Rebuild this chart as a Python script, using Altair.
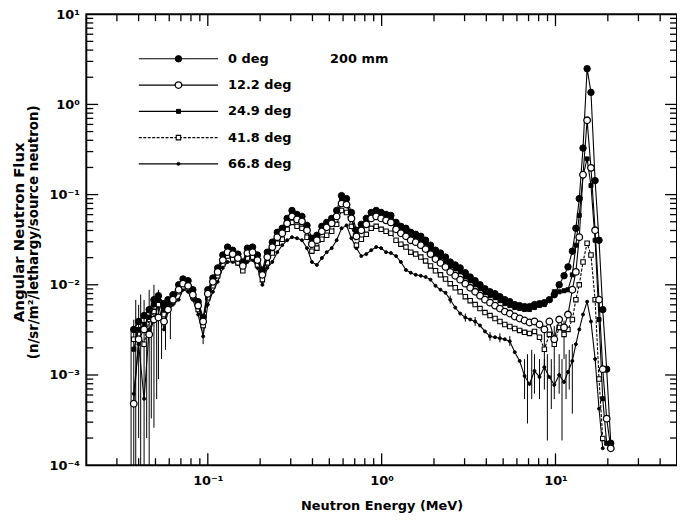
import altair as alt
import pandas as pd

# ---------------- data ----------------
series_names = ["0 deg", "12.2 deg", "24.9 deg", "41.8 deg", "66.8 deg"]

energy = [0.0375, 0.040, 0.043, 0.046, 0.049, 0.052, 0.056, 0.059, 0.063, 0.068,
          0.072, 0.077, 0.082, 0.088, 0.094, 0.100, 0.107, 0.114, 0.122, 0.130,
          0.139, 0.149, 0.159, 0.169, 0.181, 0.193, 0.206, 0.220, 0.235, 0.251,
          0.268, 0.286, 0.305, 0.326, 0.348, 0.372, 0.397, 0.424, 0.453, 0.483,
          0.516, 0.551, 0.588, 0.628, 0.670, 0.716, 0.764, 0.816, 0.871, 0.930,
          0.993, 1.06, 1.13, 1.21, 1.29, 1.38, 1.47, 1.57, 1.68, 1.79,
          1.91, 2.04, 2.18, 2.33, 2.48, 2.65, 2.83, 3.03, 3.23, 3.45,
          3.68, 3.93, 4.20, 4.49, 4.79, 5.11, 5.46, 5.83, 6.22, 6.64,
          7.09, 7.57, 8.09, 8.63, 9.22, 9.84, 10.5, 11.2, 11.8, 12.5,
          13.1, 13.7, 14.4, 15.2, 16.0, 16.9, 17.8, 18.7, 19.7, 20.8]

flux_0 = [0.0032, 0.00392, 0.00456, 0.00531, 0.00684, 0.00757, 0.00618, 0.00684, 0.00776, 0.0100,
          0.0116, 0.0111, 0.00881, 0.0065, 0.00434, 0.00881, 0.0119, 0.0154, 0.0214, 0.0262,
          0.0242, 0.0219, 0.0179, 0.0255, 0.0262, 0.0214, 0.0146, 0.0230, 0.0297, 0.0382,
          0.0423, 0.0545, 0.0667, 0.0603, 0.0573, 0.0456, 0.0328, 0.0354, 0.0445, 0.0492,
          0.0545, 0.0667, 0.0975, 0.0903, 0.0634, 0.0402, 0.0468, 0.0545, 0.0634, 0.0667,
          0.0634, 0.0603, 0.0588, 0.0492, 0.0445, 0.0423, 0.0382, 0.0363, 0.0345, 0.0312,
          0.0275, 0.0242, 0.0225, 0.0203, 0.0179, 0.0166, 0.0154, 0.0136, 0.0122, 0.0111,
          0.0100, 0.00903, 0.00837, 0.00796, 0.00738, 0.00684, 0.0065, 0.00603, 0.00588, 0.00573,
          0.00573, 0.00603, 0.00618, 0.00634, 0.00684, 0.00776, 0.0100, 0.0126, 0.0158, 0.0236,
          0.0423, 0.0903, 0.328, 2.49, 1.36, 0.143, 0.0312, 0.00531, 0.00116, 0.000175]

flux_12 = [0.00048, 0.00249, 0.0032, 0.00282, 0.00412, 0.00434, 0.00392, 0.00531, 0.00684, 0.00881,
           0.0103, 0.00975, 0.00776, 0.00588, 0.00392, 0.00796, 0.0108, 0.0139, 0.0188, 0.0230,
           0.0219, 0.0198, 0.0162, 0.0225, 0.0230, 0.0188, 0.0129, 0.0203, 0.0262, 0.0337,
           0.0373, 0.048, 0.0573, 0.0531, 0.0505, 0.0402, 0.0282, 0.0312, 0.0392, 0.0434,
           0.048, 0.0573, 0.0796, 0.0776, 0.0545, 0.0345, 0.0402, 0.0468, 0.0545, 0.0573,
           0.0545, 0.0518, 0.0492, 0.0412, 0.0373, 0.0345, 0.0312, 0.0297, 0.0275, 0.0249,
           0.0219, 0.0193, 0.0175, 0.0158, 0.0139, 0.0126, 0.0114, 0.0103, 0.00927, 0.00837,
           0.00757, 0.00684, 0.00634, 0.00588, 0.00545, 0.00505, 0.0048, 0.00445, 0.00423, 0.00402,
           0.00382, 0.00392, 0.00363, 0.0032, 0.00392, 0.00249, 0.00412, 0.00337, 0.00468, 0.00881,
           0.0139, 0.0337, 0.166, 0.667, 0.198, 0.0402, 0.00684, 0.00116, 0.000328, 0.000154]

flux_25 = [0.00193, 0.0032, 0.00363, 0.00434, 0.00603, 0.00684, 0.00531, 0.00618, 0.00719, 0.00927,
           0.0105, 0.0103, 0.00816, 0.00603, 0.00392, 0.00816, 0.0111, 0.0143, 0.0198, 0.0242,
           0.0225, 0.0203, 0.0166, 0.0236, 0.0242, 0.0198, 0.0132, 0.0208, 0.0268, 0.0345,
           0.0382, 0.0492, 0.0603, 0.0545, 0.0518, 0.0412, 0.0289, 0.0320, 0.0402, 0.0445,
           0.0492, 0.0603, 0.0859, 0.0816, 0.0573, 0.0354, 0.0423, 0.0492, 0.0573, 0.0603,
           0.0573, 0.0545, 0.0531, 0.0445, 0.0402, 0.0382, 0.0345, 0.0328, 0.0312, 0.0282,
           0.0249, 0.0219, 0.0203, 0.0184, 0.0162, 0.0150, 0.0139, 0.0122, 0.0111, 0.0100,
           0.00903, 0.00816, 0.00757, 0.00719, 0.00667, 0.00618, 0.00588, 0.00559, 0.00545, 0.00531,
           0.00531, 0.00559, 0.00588, 0.00603, 0.00684, 0.00837, 0.00837, 0.00859, 0.00881, 0.0129,
           0.0275, 0.0588, 0.162, 0.249, 0.126, 0.0312, 0.00412, 0.000545, 0.000175, None]

flux_42 = [0.00249, 0.00282, 0.00219, 0.00412, 0.00505, 0.00603, 0.00468, 0.00559, 0.0065, 0.00837,
           0.0095, 0.00927, 0.00738, 0.00531, 0.00354, 0.00719, 0.00975, 0.0126, 0.0170, 0.0208,
           0.0193, 0.0175, 0.0143, 0.0198, 0.0203, 0.0166, 0.0114, 0.0175, 0.0225, 0.0289,
           0.0320, 0.0412, 0.0492, 0.0445, 0.0423, 0.0337, 0.0236, 0.0255, 0.0320, 0.0354,
           0.0392, 0.0468, 0.0667, 0.0634, 0.0445, 0.0275, 0.0320, 0.0363, 0.0423, 0.0445,
           0.0412, 0.0392, 0.0373, 0.0312, 0.0282, 0.0262, 0.0230, 0.0219, 0.0203, 0.0184,
           0.0162, 0.0143, 0.0129, 0.0116, 0.0103, 0.00927, 0.00837, 0.00738, 0.00667, 0.00603,
           0.00545, 0.00492, 0.00456, 0.00423, 0.00392, 0.00363, 0.00345, 0.00328, 0.00312, 0.00297,
           0.00289, 0.00304, 0.00262, 0.00193, 0.00282, 0.00219, 0.00337, 0.00282, 0.0032, 0.00412,
           0.00684, 0.0100, 0.0179, 0.0289, 0.0214, 0.00684, 0.000903, 0.000198, None, None]

flux_67 = [0.000618, 0.00219, 0.000545, 0.0032, 0.00412, 0.00603, 0.0032, 0.00505, 0.00603, 0.00684,
           0.00881, 0.00837, 0.00684, 0.00468, 0.00268, 0.00603, 0.00837, 0.0108, 0.0154, 0.0179,
           0.0179, 0.0170, 0.0146, 0.0179, 0.0188, 0.0154, 0.0100, 0.0154, 0.0179, 0.0230,
           0.0275, 0.0312, 0.0337, 0.0328, 0.0312, 0.0255, 0.0179, 0.0166, 0.0198, 0.0230,
           0.0255, 0.0312, 0.0423, 0.0456, 0.0328, 0.0255, 0.0208, 0.0219, 0.0242, 0.0262,
           0.0255, 0.0230, 0.0225, 0.0208, 0.0179, 0.0146, 0.0136, 0.0129, 0.0126, 0.0122,
           0.0114, 0.00975, 0.00881, 0.00816, 0.00684, 0.00559, 0.0048, 0.00434, 0.00412, 0.00392,
           0.00354, 0.00304, 0.00268, 0.00262, 0.00255, 0.00249, 0.00236, 0.00179, 0.00143, 0.000975,
           0.000796, 0.00111, 0.00095, 0.00122, 0.00095, 0.000776, 0.0010, 0.000837, 0.00108, 0.00143,
           0.00219, 0.0032, 0.00468, 0.0065, 0.00392, 0.0015, 0.000423, 0.000154, None, None]

# error bars (energy, lower, upper)
err_energy = [0.0362, 0.0375, 0.0385, 0.040, 0.0411, 0.043, 0.0445, 0.046, 0.0473, 0.049,
              0.0508, 0.052, 0.0542, 0.0571, 0.0609, 0.094,
              2.48, 3.03, 3.45, 4.20, 4.79, 5.46,
              6.64, 6.90, 7.30, 7.57, 8.09, 8.63, 8.98, 9.46, 9.84, 10.5,
              10.9, 11.5, 12.0, 12.5, 8.63, 9.84, 11.2]
err_low = [0.0001, 0.0001, 0.0001, 0.0002, 0.0001, 0.0001, 0.0002, 0.0001, 0.00033, 0.00026,
           0.00054, 0.0009, 0.0015, 0.0019, 0.0025, 0.0022,
           0.0062, 0.0039, 0.0035, 0.0024, 0.0023, 0.0021,
           0.00054, 0.00029, 0.00054, 0.00062, 0.00054, 0.00069, 0.000188, 0.00042, 0.00054, 0.00062,
           0.000188, 0.00054, 0.00069, 0.000373, 0.0012, 0.0013, 0.0015]
err_high = [0.0032, 0.0041, 0.0068, 0.006, 0.0078, 0.0068, 0.0053, 0.0088, 0.0068, 0.010,
            0.0078, 0.0088, 0.0068, 0.006, 0.0068, 0.0036,
            0.0076, 0.0048, 0.0044, 0.0030, 0.0029, 0.0027,
            0.0015, 0.0017, 0.0019, 0.0017, 0.0015, 0.0015, 0.0017, 0.0015, 0.0013, 0.0017,
            0.0015, 0.0017, 0.0019, 0.0022, 0.0030, 0.0035, 0.0040]

# axis tick values
x_major = [0.1, 1, 10]
x_minor = [0.03, 0.04, 0.05, 0.06, 0.07, 0.08, 0.09,
           0.2, 0.3, 0.4, 0.5, 0.6, 0.7, 0.8, 0.9,
           2, 3, 4, 5, 6, 7, 8, 9, 20, 30, 40]
y_major = [0.001, 0.01, 0.1, 1]
y_minor = [2e-4, 3e-4, 4e-4, 5e-4, 6e-4, 7e-4, 8e-4, 9e-4,
           2e-3, 3e-3, 4e-3, 5e-3, 6e-3, 7e-3, 8e-3, 9e-3,
           0.02, 0.03, 0.04, 0.05, 0.06, 0.07, 0.08, 0.09,
           0.2, 0.3, 0.4, 0.5, 0.6, 0.7, 0.8, 0.9,
           2, 3, 4, 5, 6, 7, 8, 9]
x_label_values = [0.1, 1, 10]
x_labels = ["10⁻¹", "10⁰", "10¹"]
y_label_values = [1e-4, 1e-3, 1e-2, 0.1, 1, 10]
y_labels = ["10⁻⁴", "10⁻³", "10⁻²", "10⁻¹", "10⁰", "10¹"]
y_title_lines = ["Angular Neutron Flux", "(n/sr/m²/lethargy/source neutron)"]
x_title = "Neutron Energy (MeV)"
note_text = "200 mm"

# ---------------- build chart ----------------
FONT = "DejaVu Sans"
FW = "bold"
FS = 13
W, H = 596, 455

all_flux = [flux_0, flux_12, flux_25, flux_42, flux_67]
rows = []
for name, vals in zip(series_names, all_flux):
    for e, v in zip(energy, vals):
        if v is not None:
            rows.append({"series": name, "energy": e, "flux": v})
df = pd.DataFrame(rows)

xscale = alt.Scale(type="log", domain=[0.02, 50], nice=False)
yscale = alt.Scale(type="log", domain=[1e-4, 10], nice=False)

xlab_expr = "[" + ",".join("'%s'" % s for s in x_labels) + "][round(log(datum.value)/LN10)+1]"
ylab_expr = "[" + ",".join("'%s'" % s for s in y_labels) + "][round(log(datum.value)/LN10)+4]"

x_axis = alt.Axis(values=x_label_values, labelExpr=xlab_expr, ticks=False, domain=False, grid=False,
                  labelFont=FONT, labelFontSize=FS, labelFontWeight=FW, labelColor="black",
                  labelPadding=9, title=x_title, titleFont=FONT, titleFontSize=FS,
                  titleFontWeight=FW, titleColor="black", titlePadding=13)
y_axis = alt.Axis(values=y_label_values, labelExpr=ylab_expr, ticks=False, domain=False, grid=False,
                  labelFont=FONT, labelFontSize=FS, labelFontWeight=FW, labelColor="black",
                  labelPadding=7, title=None)


def X(field):
    return alt.X(field, scale=xscale, axis=x_axis)


def Y(field):
    return alt.Y(field, scale=yscale, axis=y_axis)


err_df = pd.DataFrame({"energy": err_energy, "lo": err_low, "hi": err_high})
errbars = alt.Chart(err_df).mark_rule(color="black", strokeWidth=1, clip=True).encode(
    x=X("energy:Q"), y=Y("lo:Q"), y2="hi:Q",
)

styles = {
    "0 deg": dict(shape="circle", fill="black", size=42, sw=1, dash=[1, 0]),
    "12.2 deg": dict(shape="circle", fill="white", size=44, sw=1.3, dash=[1, 0]),
    "24.9 deg": dict(shape="square", fill="black", size=16, sw=1, dash=[1, 0]),
    "41.8 deg": dict(shape="square", fill="white", size=20, sw=1.1, dash=[3, 1.5]),
    "66.8 deg": dict(shape="circle", fill="black", size=9, sw=1, dash=[1, 0]),
}

layers = [errbars]
for name in ["66.8 deg", "41.8 deg", "24.9 deg", "0 deg", "12.2 deg"]:
    st = styles[name]
    base = alt.Chart(df).transform_filter(alt.datum.series == name)
    line = base.mark_line(color="black", strokeWidth=1.1, strokeDash=st["dash"], clip=True).encode(
        x=X("energy:Q"), y=Y("flux:Q"),
    )
    pts = base.mark_point(shape=st["shape"], filled=True, fill=st["fill"], stroke="black",
                          strokeWidth=st["sw"], size=st["size"], opacity=1, clip=True).encode(
        x=X("energy:Q"), y=Y("flux:Q"),
    )
    layers += [line, pts]


# tick marks (inside the frame, all four sides)
def xticks(vals, length):
    d = pd.DataFrame({"v": vals})
    bot = alt.Chart(d).mark_rule(color="black", strokeWidth=1.3).encode(
        x=X("v:Q"), y=alt.value(H), y2=alt.value(H - length))
    top = alt.Chart(d).mark_rule(color="black", strokeWidth=1.3).encode(
        x=X("v:Q"), y=alt.value(0), y2=alt.value(length))
    return [bot, top]


def yticks(vals, length):
    d = pd.DataFrame({"v": vals})
    left = alt.Chart(d).mark_rule(color="black", strokeWidth=1.3).encode(
        y=Y("v:Q"), x=alt.value(0), x2=alt.value(length))
    right = alt.Chart(d).mark_rule(color="black", strokeWidth=1.3).encode(
        y=Y("v:Q"), x=alt.value(W), x2=alt.value(W - length))
    return [left, right]


layers += xticks(x_minor, 7) + xticks(x_major, 12) + yticks(y_minor, 7) + yticks(y_major, 12)

# y-axis title: two rotated lines
for txt, xpos, fsize in [(y_title_lines[0], -68, 15), (y_title_lines[1], -53, 13.5)]:
    layers.append(alt.Chart(alt.Data(values=[{"t": txt}])).mark_text(
        align="center", baseline="middle", angle=270, font=FONT, fontSize=fsize,
        fontWeight=FW, color="black").encode(
        x=alt.value(xpos), y=alt.value(220), text="t:N"))

# legend drawn inside the plot
for i, name in enumerate(series_names):
    st = styles[name]
    ry = 45 + 26.5 * i
    one = alt.Data(values=[{"series": name}])
    layers.append(alt.Chart(one).mark_rule(color="black", strokeWidth=1.1, strokeDash=st["dash"]).encode(
        x=alt.value(53), x2=alt.value(133), y=alt.value(ry)))
    layers.append(alt.Chart(one).mark_point(shape=st["shape"], filled=True, fill=st["fill"], stroke="black",
                                            strokeWidth=st["sw"], size=st["size"], opacity=1).encode(
        x=alt.value(93), y=alt.value(ry)))
    layers.append(alt.Chart(one).mark_text(align="left", baseline="middle", font=FONT, fontSize=FS,
                                           fontWeight=FW, color="black").encode(
        x=alt.value(143), y=alt.value(ry), text="series:N"))

layers.append(alt.Chart(alt.Data(values=[{"t": note_text}])).mark_text(
    align="left", baseline="middle", font=FONT, fontSize=FS, fontWeight=FW, color="black").encode(
    x=alt.value(246), y=alt.value(45), text="t:N"))

chart = alt.layer(*layers).properties(
    width=W, height=H,
    autosize=alt.AutoSizeParams(type="none"),
    padding={"left": 79, "top": 4, "right": 0, "bottom": 50},
).configure(
    font=FONT, background="white",
    view=alt.ViewConfig(stroke="black", strokeWidth=2),
)

chart.save("out.html", embed_options={"renderer": "svg", "actions": False})
